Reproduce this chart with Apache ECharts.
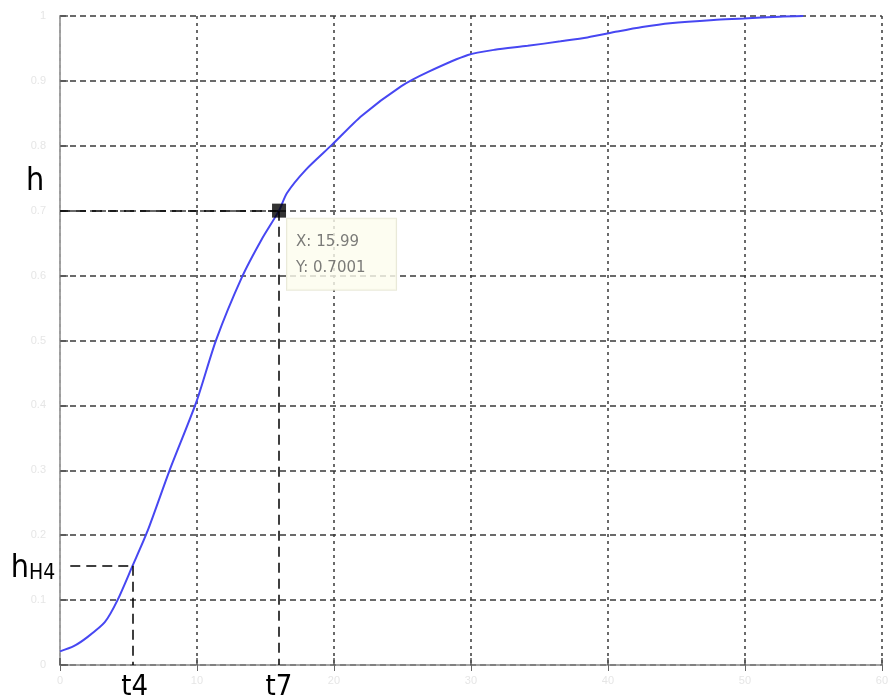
<!DOCTYPE html>
<html>
<head>
<meta charset="utf-8">
<script src="https://cdn.jsdelivr.net/npm/echarts@6/dist/echarts.min.js"></script>
<style>
  html, body { margin: 0; padding: 0; background: #fff; }
  #chart { width: 891px; height: 699px; }
</style>
</head>
<body>
<div id="chart"></div>
<script>
// Step response h(t)
const tValues = [0, 1.0, 2.0, 3.27, 4.2, 5.3, 6.4, 8.0, 9.95, 11.40, 13.29, 14.7, 15.99, 16.56, 17.94, 19.83,
                 22.01, 24.92, 26.88, 29.78, 31.74, 34.14, 36.54, 38.50, 40.68, 42.5, 44.53, 47.72,
                 49.90, 52.52, 54.26];
const hValues = [0.021, 0.029, 0.043, 0.066, 0.100, 0.153, 0.207, 0.300, 0.405, 0.501, 0.598, 0.655, 0.7001,
                 0.727, 0.763, 0.801, 0.846, 0.892, 0.914, 0.940, 0.948, 0.954, 0.961, 0.967, 0.976,
                 0.983, 0.989, 0.994, 0.996, 0.999, 1.0];

// Marked data point (data cursor) and the t4 reading
const cursorT = 15.99;
const cursorH = 0.7001;
const t4 = 5.3;
const h4 = 0.153;

// Axis ticks
const xTicks = [0, 10, 20, 30, 40, 50, 60];
const yTicks = [0, 0.1, 0.2, 0.3, 0.4, 0.5, 0.6, 0.7, 0.8, 0.9, 1];

const curve = tValues.map((t, i) => [t, hValues[i]]);

const labelFont = "'DejaVu Sans Condensed', 'Liberation Sans Narrow', 'Liberation Sans', sans-serif";
const dashStyle = { color: '#000', type: [10, 6], width: 1.5 };

const chart = echarts.init(document.getElementById('chart'), null, { renderer: 'canvas' });

chart.setOption({
  animation: false,
  backgroundColor: '#fff',
  grid: { left: 60, right: 5, top: 16, bottom: 34 },
  xAxis: [{
    type: 'value',
    min: xTicks[0], max: xTicks[xTicks.length - 1], interval: 10,
    axisLine: { show: true, lineStyle: { color: '#888', width: 1.5 } },
    axisTick: { show: true, inside: true, length: 7, lineStyle: { color: '#555', width: 1.5 } },
    axisLabel: { color: '#e6e6e6', fontSize: 11, margin: 10 },
    splitLine: { show: true, lineStyle: { color: '#3a3a3a', type: [3, 4], width: 1.5 } }
  }, {
    type: 'value', position: 'top',
    min: xTicks[0], max: xTicks[xTicks.length - 1], interval: 10,
    axisLine: { show: false },
    axisTick: { show: true, inside: true, length: 6, lineStyle: { color: '#666' } },
    axisLabel: { show: false },
    splitLine: { show: false }
  }],
  yAxis: [{
    type: 'value',
    min: yTicks[0], max: yTicks[yTicks.length - 1], interval: 0.1,
    axisLine: { show: true, lineStyle: { color: '#333', width: 1.5 } },
    axisTick: { show: true, inside: true, length: 8, lineStyle: { color: '#555', width: 1.5 } },
    axisLabel: { color: '#e6e6e6', fontSize: 11, margin: 14,
                 formatter: v => String(Math.round(v * 10) / 10) },
    splitLine: { show: true, lineStyle: { color: '#3a3a3a', type: [6, 4], width: 1.5 } }
  }, {
    type: 'value', position: 'right',
    min: yTicks[0], max: yTicks[yTicks.length - 1], interval: 0.1,
    axisLine: { show: true, lineStyle: { color: '#bbb', width: 1.5 } },
    axisTick: { show: false },
    axisLabel: { show: false },
    splitLine: { show: false }
  }],
  series: [{
    type: 'line',
    data: curve,
    smooth: 0.25,
    showSymbol: false,
    lineStyle: { color: '#4747f2', width: 2 },
    z: 3,
    markLine: {
      silent: true,
      symbol: ['none', 'none'],
      label: { show: false },
      lineStyle: dashStyle,
      data: [
        [{ coord: [0, cursorH] }, { coord: [cursorT, cursorH] }],
        [{ coord: [cursorT, cursorH] }, { coord: [cursorT, 0] }],
        [{ coord: [0.75, h4] }, { coord: [t4, h4] }],
        [{ coord: [t4, h4] }, { coord: [t4, 0] }]
      ]
    },
    markPoint: {
      silent: true,
      symbol: 'circle',
      symbolSize: 0,
      itemStyle: { color: 'transparent' },
      data: [
        { coord: [0, cursorH], label: { show: true, formatter: 'h', offset: [-25, -29],
          color: '#000', fontSize: 32, fontFamily: labelFont } },
        { coord: [0, h4], label: { show: true, formatter: '{a|h}{b|H4}', offset: [-27, 3],
          rich: {
            a: { color: '#000', fontSize: 32, fontFamily: labelFont, verticalAlign: 'bottom' },
            b: { color: '#000', fontSize: 21, fontFamily: labelFont, verticalAlign: 'bottom', padding: [0, 0, 1, 0] }
          } } },
        { coord: [t4, 0], label: { show: true, formatter: 't4', offset: [2, 22],
          color: '#000', fontSize: 29, fontFamily: labelFont } },
        { coord: [cursorT, 0], label: { show: true, formatter: 't7', offset: [0, 22],
          color: '#000', fontSize: 29, fontFamily: labelFont } }
      ]
    }
  }, {
    type: 'scatter',
    data: [[cursorT, cursorH]],
    symbol: 'rect',
    symbolSize: 14,
    itemStyle: { color: '#000' },
    z: 5,
    label: {
      show: true,
      position: [15, 15],
      formatter: 'X: ' + cursorT + '\nY: ' + cursorH,
      color: '#5a5a5a',
      fontSize: 15,
      fontFamily: "'DejaVu Sans', sans-serif",
      lineHeight: 26,
      width: 90,
      align: 'left',
      verticalAlign: 'top',
      backgroundColor: '#fdfdee',
      borderColor: '#e4e4cf',
      borderWidth: 1,
      padding: [10, 10, 9, 9]
    }
  }]
});
</script>
</body>
</html>
